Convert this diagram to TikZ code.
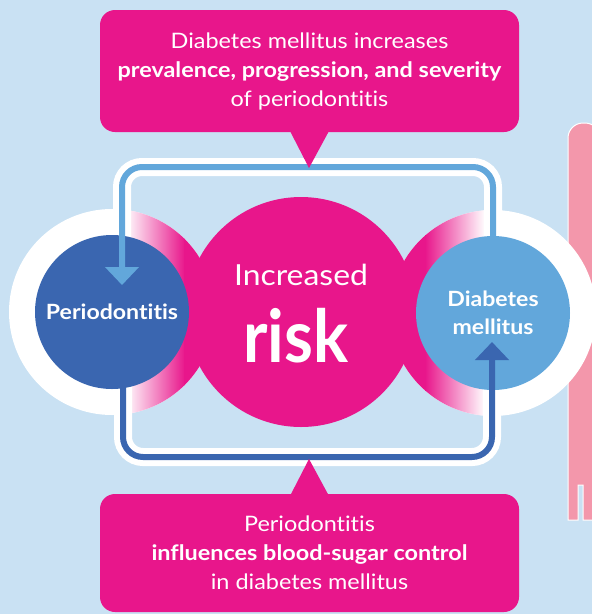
\documentclass[tikz,border=0pt]{standalone}
\usepackage{fontspec}
\setmainfont{Lato}[FakeStretch=1.1,Ligatures=NoCommon]
\newfontfamily\riskfont{Lato}[FakeStretch=0.9,Ligatures=NoCommon]
\usetikzlibrary{positioning,calc,arrows.meta}
\definecolor{bgblue}{HTML}{C9E1F3}
\definecolor{riskpink}{HTML}{E8168B}
\definecolor{pdblue}{HTML}{3A66B0}
\definecolor{dmblue}{HTML}{62A7DB}
\definecolor{sidepink}{HTML}{F397AB}
\tikzset{disc/.style={circle,fill=#1,minimum size=154pt,inner sep=0pt,text=white,align=center,font=\bfseries\fontsize{21}{28}\selectfont}}
\tikzset{callout/.style={fill=riskpink,rounded corners=15pt,minimum width=419pt,text=white,align=center,font=\fontsize{21.3}{29}\selectfont}}
\tikzset{loopw/.style={white,line width=18pt,rounded corners=20pt}}
\tikzset{loopc/.style={draw=#1,line width=6pt,rounded corners=20pt}}
\tikzset{>={Triangle[width=33pt,length=18pt]}}

\begin{document}
\begin{tikzpicture}[x=1pt,y=-1pt]
	\fill[bgblue] (0,0) rectangle (592,614);
	\useasboundingbox (0,0) rectangle (592,614);
	% pink panel at the right edge
	\draw[white,fill=sidepink,line width=1pt] (600,520) -- (583,520) -- (583,485) -- (578,485) -- (578,520) -- (568,520) [rounded corners=15pt]-- (568,123) -- (600,123) [sharp corners]-- cycle;
		\coordinate (pc) at (112,312);
		\coordinate (dc) at (493,313);
	% rings
	\fill[white] (pc) circle[radius=103];
	\begin{scope}
		\clip (pc) circle[radius=103];
		\shade[left color=white,right color=riskpink] (125,200) rectangle (185,420);
		\fill[riskpink] (184,200) rectangle (220,420);
	\end{scope}
	\fill[white] (dc) circle[radius=103];
	\begin{scope}
		\clip (dc) circle[radius=103];
		\shade[left color=riskpink,right color=white] (425,200) rectangle (485,420);
		\fill[riskpink] (385,200) rectangle (426,420);
	\end{scope}
	\node[circle,fill=riskpink,minimum size=230pt,inner sep=0pt] (risk) at (301,312) {};
	\node[anchor=base,text=white,font=\fontsize{29}{29}\selectfont] (inc) at (301,285) {Increased};
	\node[anchor=base,text=white,font=\riskfont\bfseries\fontsize{73}{73}\selectfont] (rk) at (296,362) {risk};
		\coordinate (t1) at (122,167);
		\coordinate (t2) at (493,167);
		\coordinate (ptip) at (122,285);
		\coordinate (b1) at (123,457);
		\coordinate (b2) at (492,457);
		\coordinate (dtip) at (492,342);
	\draw[loopw] (122,260) -- (t1) -- (t2) -- (493,260);
	\draw[loopw] (123,360) -- (b1) -- (b2) -- (492,360);
	\node[disc=pdblue] (perio) at (pc) {Periodontitis};
	\node[disc=dmblue] (dm) at (dc) {Diabetes\\mellitus};
	\draw[loopc=dmblue,->] (dm.north) -- (t2) -- (t1) -- (ptip);
	\draw[loopc=pdblue,->] (123,380) -- (b1) -- (b2) -- (dtip);
	% callouts
	\node[callout,minimum height=122pt] (top) at (309.5,71) {Diabetes mellitus increases\\\textbf{prevalence, progression, and severity}\\of periodontitis};
	\fill[riskpink] (290,131) -- (329,131) -- (309,168) -- cycle;
	\node[callout,minimum height=118pt] (bot) at (309.5,553) {Periodontitis\\\textbf{influences blood-sugar control}\\in diabetes mellitus};
	\fill[riskpink] (290,496) -- (329,496) -- (309,459) -- cycle;
\end{tikzpicture}
\end{document}
